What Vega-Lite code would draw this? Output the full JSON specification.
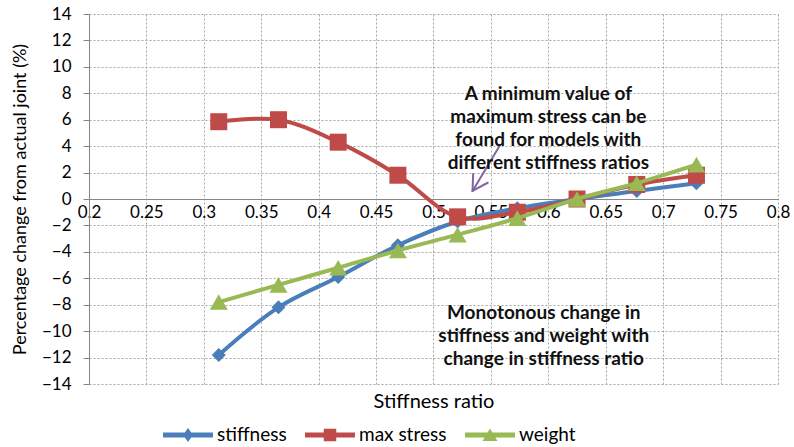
{
  "$schema": "https://vega.github.io/schema/vega-lite/v6.json",
  "width": 689,
  "height": 370,
  "autosize": {"type": "none"},
  "padding": {"left": 89, "top": 14, "right": 16, "bottom": 63},
  "background": "white",
  "config": {"font": "Lato", "view": {"stroke": null}},
  "datasets": {
    "series": [
      {"series": "stiffness", "x": 0.313, "y": -11.8},
      {"series": "stiffness", "x": 0.365, "y": -8.2},
      {"series": "stiffness", "x": 0.417, "y": -5.9},
      {"series": "stiffness", "x": 0.469, "y": -3.5},
      {"series": "stiffness", "x": 0.521, "y": -1.7},
      {"series": "stiffness", "x": 0.573, "y": -0.7},
      {"series": "stiffness", "x": 0.625, "y": 0},
      {"series": "stiffness", "x": 0.677, "y": 0.6},
      {"series": "stiffness", "x": 0.729, "y": 1.2},
      {"series": "max stress", "x": 0.313, "y": 5.85},
      {"series": "max stress", "x": 0.365, "y": 6.0},
      {"series": "max stress", "x": 0.417, "y": 4.3},
      {"series": "max stress", "x": 0.469, "y": 1.8},
      {"series": "max stress", "x": 0.521, "y": -1.35},
      {"series": "max stress", "x": 0.573, "y": -1.0},
      {"series": "max stress", "x": 0.625, "y": 0},
      {"series": "max stress", "x": 0.677, "y": 1.1},
      {"series": "max stress", "x": 0.729, "y": 1.8},
      {"series": "weight", "x": 0.313, "y": -7.8},
      {"series": "weight", "x": 0.365, "y": -6.5},
      {"series": "weight", "x": 0.417, "y": -5.2},
      {"series": "weight", "x": 0.469, "y": -3.9},
      {"series": "weight", "x": 0.521, "y": -2.7},
      {"series": "weight", "x": 0.573, "y": -1.45},
      {"series": "weight", "x": 0.625, "y": 0},
      {"series": "weight", "x": 0.677, "y": 1.2},
      {"series": "weight", "x": 0.729, "y": 2.6}
    ],
    "notes": [
      {"x": 0.6, "y": 7.91, "text": ["A minimum value of", "maximum stress  can be", "found for models with", "different stiffness ratios"]},
      {"x": 0.596, "y": -8.59, "text": ["Monotonous change in", "stiffness and weight with", "change in stiffness ratio"]}
    ],
    "arrow": [
      {"x": 0.558, "y": 4.09, "x2": 0.534, "y2": 0.61},
      {"x": 0.5472, "y": 1.23, "x2": 0.534, "y2": 0.61},
      {"x": 0.5345, "y": 1.89, "x2": 0.534, "y2": 0.61}
    ]
  },
  "encoding": {
    "x": {
      "field": "x", "type": "quantitative", "title": "Stiffness ratio",
      "scale": {"domain": [0.2, 0.8], "nice": false, "zero": false},
      "axis": {
        "values": [0.2, 0.25, 0.3, 0.35, 0.4, 0.45, 0.5, 0.55, 0.6, 0.65, 0.7, 0.75, 0.8],
        "format": "~g", "offset": -185, "domainColor": "#868686", "domainWidth": 1,
        "ticks": false, "labelPadding": 5, "labelFontSize": 17, "labelColor": "#000",
        "labelFlush": false, "labelOverlap": false,
        "grid": true, "gridColor": "#a6a6a6", "gridDash": [2, 2], "gridWidth": 1,
        "titleY": 202, "titleBaseline": "middle", "titleFontSize": 20,
        "titleFontWeight": "normal", "titleColor": "#000"
      }
    },
    "y": {
      "field": "y", "type": "quantitative", "title": "Percentage change from actual joint (%)",
      "scale": {"domain": [-14, 14], "nice": false, "zero": false},
      "axis": {
        "values": [-14, -12, -10, -8, -6, -4, -2, 0, 2, 4, 6, 8, 10, 12, 14],
        "format": "d", "domainColor": "#868686", "domainWidth": 1,
        "tickColor": "#868686", "tickSize": 6, "labelPadding": 12,
        "labelFontSize": 17, "labelColor": "#000", "labelFlush": false, "labelOverlap": false,
        "grid": true, "gridColor": "#a6a6a6", "gridDash": [2, 2], "gridWidth": 1,
        "titleFontSize": 18, "titleFontWeight": "normal", "titleColor": "#000", "titlePadding": 12
      }
    }
  },
  "layer": [
    {
      "data": {"name": "arrow"},
      "mark": {"type": "rule", "color": "#8064A2", "strokeWidth": 2, "strokeCap": "round"},
      "encoding": {"x2": {"field": "x2"}, "y2": {"field": "y2"}}
    },
    {
      "data": {"name": "notes"},
      "mark": {"type": "text", "fontWeight": "bold", "fontSize": 19, "lineHeight": 23, "align": "center", "baseline": "middle", "color": "#111"},
      "encoding": {"text": {"field": "text", "type": "nominal"}}
    },
    {
      "data": {"name": "series"},
      "transform": [{"filter": "datum.series === 'stiffness'"}],
      "mark": {"type": "line", "strokeWidth": 4, "interpolate": "catmull-rom", "point": {"shape": "diamond", "size": 196, "filled": true}},
      "encoding": {
        "color": {
          "field": "series", "type": "nominal",
          "scale": {"domain": ["stiffness", "max stress", "weight"], "range": ["#4A7EBB", "#BE4B48", "#98B954"]},
          "legend": {
            "orient": "none", "direction": "horizontal", "legendX": 74, "legendY": 396, "title": null,
            "padding": 0, "symbolSize": 2500, "labelFontSize": 19, "labelOffset": 4, "columnPadding": 18, "labelColor": "#000",
            "encoding": {"symbols": {
              "shape": {"value": {"expr": "datum.value === 'stiffness' ? 'M-1,-0.1L1,-0.1L1,0.1L-1,0.1Z M0,-0.28L0.2,0L0,0.28L-0.2,0Z' : datum.value === 'max stress' ? 'M-1,-0.1L1,-0.1L1,0.1L-1,0.1Z M-0.25,-0.25L0.25,-0.25L0.25,0.25L-0.25,0.25Z' : 'M-1,-0.1L1,-0.1L1,0.1L-1,0.1Z M0,-0.26L0.3,0.24L-0.3,0.24Z'"}},
              "fill": {"value": {"expr": "datum.value === 'stiffness' ? '#4A7EBB' : datum.value === 'max stress' ? '#BE4B48' : '#98B954'"}},
              "strokeWidth": {"value": 0},
              "opacity": {"value": 1}
            }}
          }
        }
      }
    },
    {
      "data": {"name": "series"},
      "transform": [{"filter": "datum.series === 'max stress'"}],
      "mark": {"type": "line", "strokeWidth": 4, "interpolate": "catmull-rom", "point": {"shape": "square", "size": 289, "filled": true}},
      "encoding": {"color": {"field": "series", "type": "nominal"}}
    },
    {
      "data": {"name": "series"},
      "transform": [{"filter": "datum.series === 'weight'"}],
      "mark": {"type": "line", "strokeWidth": 4, "interpolate": "catmull-rom", "point": {"shape": "triangle-up", "size": 324, "filled": true}},
      "encoding": {"color": {"field": "series", "type": "nominal"}}
    }
  ]
}
